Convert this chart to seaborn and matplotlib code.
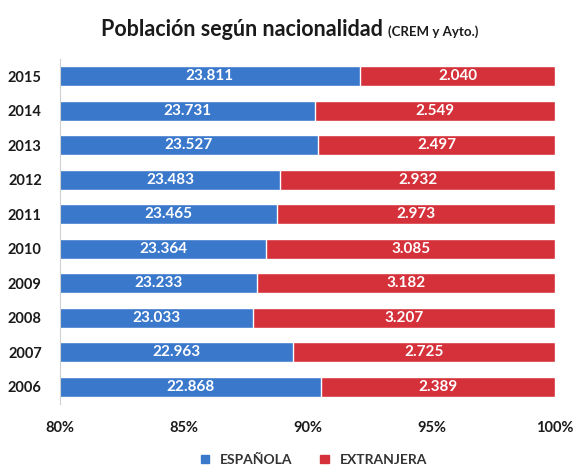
import matplotlib
matplotlib.use("Agg")
import matplotlib.pyplot as plt
import seaborn as sns
import pandas as pd
from matplotlib.patches import Patch

years = ["2015", "2014", "2013", "2012", "2011", "2010", "2009", "2008", "2007", "2006"]
espanola = [23811, 23731, 23527, 23483, 23465, 23364, 23233, 23033, 22963, 22868]
extranjera = [2040, 2549, 2497, 2932, 2973, 3085, 3182, 3207, 2725, 2389]
xticks = [80, 85, 90, 95, 100]

sns.set_theme(style="white")
plt.rcParams["font.family"] = ["Lato", "DejaVu Sans"]

df = pd.DataFrame({"year": years, "esp": espanola, "ext": extranjera})
df["total"] = df["esp"] + df["ext"]
df["esp_pct"] = df["esp"] / df["total"] * 100
df["full"] = 100.0

blue = "#3A78CC"
red = "#D5313A"

fig = plt.figure(figsize=(5.76, 4.66), dpi=100)
ax = fig.add_axes([0.104, 0.133, 0.86, 0.74])

sns.barplot(data=df, y="year", x="full", color=red, orient="h", width=0.58,
            ax=ax, saturation=1)
sns.barplot(data=df, y="year", x="esp_pct", color=blue, orient="h", width=0.58,
            ax=ax, saturation=1)

ax.set_xlim(80, 100)
ax.set_xticks(xticks)
ax.set_xticklabels([f"{t}%" for t in xticks])
ax.set_xlabel("")
ax.set_ylabel("")
for s in ["top", "right", "bottom"]:
    ax.spines[s].set_visible(False)
ax.spines["left"].set_color("#D0D0D0")
ax.spines["left"].set_linewidth(0.8)
ax.tick_params(axis="both", length=0, labelsize=10.5, colors="#1a1a1a")
ax.tick_params(axis="x", pad=12)
ax.tick_params(axis="y", pad=13)
for lab in ax.get_xticklabels() + ax.get_yticklabels():
    lab.set_fontweight("bold")

def fmt(v):
    return f"{v:,}".replace(",", ".")

for i, row in df.iterrows():
    b = row["esp_pct"]
    ax.text((80 + b) / 2, i, fmt(row["esp"]), ha="center", va="center",
            color="white", fontsize=11, fontweight="bold")
    ax.text((b + 100) / 2, i, fmt(row["ext"]), ha="center", va="center",
            color="white", fontsize=11, fontweight="bold")

fig.text(0.665, 0.936, "Población según nacionalidad", ha="right", va="center",
         fontsize=15.5, fontweight="bold", color="#1a1a1a")
fig.text(0.673, 0.931, "(CREM y Ayto.)", ha="left", va="center",
         fontsize=9.5, fontweight="bold", color="#1a1a1a")

handles = [Patch(color=blue, label="ESPAÑOLA"), Patch(color=red, label="EXTRANJERA")]
leg = fig.legend(handles=handles, loc="center", bbox_to_anchor=(0.545, 0.013),
                 ncol=2, frameon=False, fontsize=10, handlelength=0.6,
                 handleheight=0.6, columnspacing=2.0, handletextpad=0.8)
for t in leg.get_texts():
    t.set_fontweight("bold")
    t.set_color("#333333")

fig.savefig("out.png", dpi=100)
